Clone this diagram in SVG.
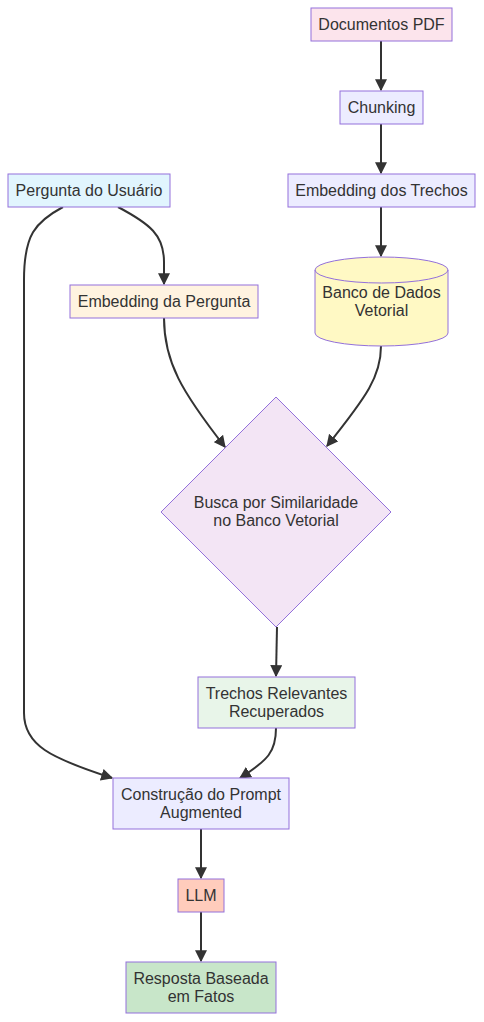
<svg xmlns="http://www.w3.org/2000/svg" width="484" height="1022" viewBox="0 0 484 1022">
<style>
.n{stroke:#9370DB;stroke-width:1}
.t{font-family:"Liberation Sans",Arial,sans-serif;font-size:16px;fill:#333;text-anchor:middle}
.e{fill:none;stroke:#333;stroke-width:2}
</style>
<defs>
<marker id="ah" viewBox="0 0 10 10" refX="9" refY="5" markerWidth="12" markerHeight="12" markerUnits="userSpaceOnUse" orient="auto">
<path d="M0,0 L10,5 L0,10 z" fill="#333"/>
</marker>
</defs>
<rect width="484" height="1022" fill="#fff"/>
<g id="edges">
<path class="e" d="M381,41 L381,90" marker-end="url(#ah)"/>
<path class="e" d="M381,124 L381,173" marker-end="url(#ah)"/>
<path class="e" d="M381,207 L381,256" marker-end="url(#ah)"/>
<path class="e" d="M118,207 C150,224 164,235 164,262 L164,284" marker-end="url(#ah)"/>
<path class="e" d="M63,207 C35,222 24,235 24,280 L24,713 C24,745 50,758 112,778" marker-end="url(#ah)"/>
<path class="e" d="M164,318 C164,362 182,392 225,447" marker-end="url(#ah)"/>
<path class="e" d="M381,346 C381,376 367,396 327,446" marker-end="url(#ah)"/>
<path class="e" d="M277,627 L276,676" marker-end="url(#ah)"/>
<path class="e" d="M276,728 C276,752 268,760 240,778" marker-end="url(#ah)"/>
<path class="e" d="M201,829 L201,878" marker-end="url(#ah)"/>
<path class="e" d="M201,912 L201,961" marker-end="url(#ah)"/>
</g>
<g id="docs"><rect class="n" x="311" y="8" width="141" height="33" fill="#fce4ec"/><text class="t" x="381.5" y="30">Documentos PDF</text></g>
<g id="chunk"><rect class="n" x="340" y="91" width="83" height="33" fill="#ececff"/><text class="t" x="381.5" y="113">Chunking</text></g>
<g id="pergunta"><rect class="n" x="8" y="174" width="162" height="33" fill="#e1f5fe"/><text class="t" x="89" y="196">Pergunta do Usuário</text></g>
<g id="embTrechos"><rect class="n" x="288" y="174" width="187" height="33" fill="#ececff"/><text class="t" x="381.5" y="196">Embedding dos Trechos</text></g>
<g id="embPergunta"><rect class="n" x="70" y="285" width="188" height="33" fill="#fff3e0"/><text class="t" x="164" y="307">Embedding da Pergunta</text></g>
<g id="banco">
<path class="n" d="M315,270 A66.5,13 0 0 1 448,270 L448,333 A66.5,13 0 0 1 315,333 Z" fill="#fff9c4"/>
<path class="n" d="M315,270 A66.5,13 0 0 0 448,270" fill="none"/>
<text class="t" x="381.5" y="298">Banco de Dados</text><text class="t" x="381.5" y="316">Vetorial</text>
</g>
<g id="busca"><polygon class="n" points="276,397 391,512 276,627 161,512" fill="#f3e5f5"/><text class="t" x="276" y="508">Busca por Similaridade</text><text class="t" x="276" y="526">no Banco Vetorial</text></g>
<g id="trechos"><rect class="n" x="198" y="677" width="157" height="51" fill="#e8f5e9"/><text class="t" x="276.5" y="699">Trechos Relevantes</text><text class="t" x="276.5" y="717">Recuperados</text></g>
<g id="prompt"><rect class="n" x="113" y="778" width="176" height="51" fill="#ececff"/><text class="t" x="201" y="800">Construção do Prompt</text><text class="t" x="201" y="818">Augmented</text></g>
<g id="llm"><rect class="n" x="178" y="879" width="46" height="33" fill="#ffccbc"/><text class="t" x="201" y="901">LLM</text></g>
<g id="resposta"><rect class="n" x="126" y="962" width="150" height="51" fill="#c8e6c9"/><text class="t" x="201" y="984">Resposta Baseada</text><text class="t" x="201" y="1002">em Fatos</text></g>
</svg>
